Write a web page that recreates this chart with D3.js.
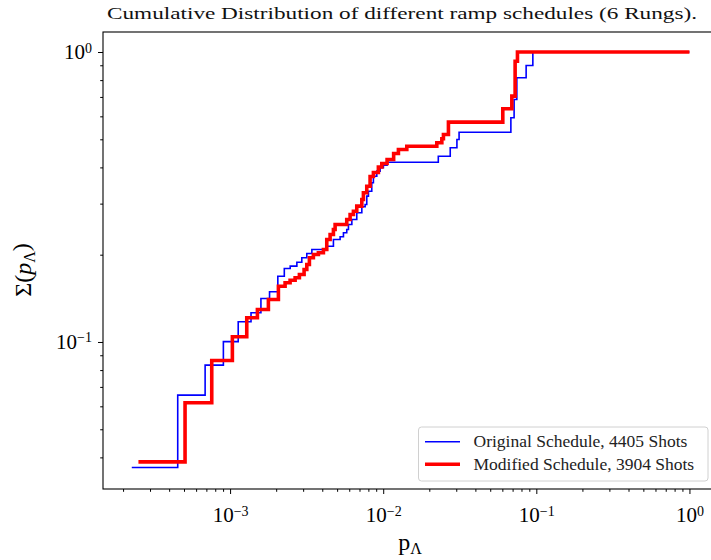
<!DOCTYPE html>
<html>
<head>
<meta charset="utf-8">
<script src="https://cdn.jsdelivr.net/npm/d3@7"></script>
<style>
  body { margin: 0; background: #fff; }
  svg { display: block; font-family: "Liberation Serif", serif; }
</style>
</head>
<body>
<svg id="chart" width="711" height="560"></svg>
<script>
// Step positions (p value) and cumulative fraction for each schedule
const originalX = [2.28e-4, 4.55e-4, 6.87e-4, 9.04e-4, 1.13e-3, 1.37e-3, 1.59e-3, 1.81e-3,
  2.05e-3, 2.26e-3, 2.47e-3, 2.73e-3, 2.94e-3, 3.17e-3, 3.42e-3, 4.28e-3, 4.73e-3, 5.23e-3,
  5.50e-3, 5.78e-3, 5.93e-3, 6.24e-3, 6.72e-3, 7.25e-3, 7.62e-3, 7.81e-3, 8.01e-3, 8.42e-3,
  8.63e-3, 9.08e-3, 9.55e-3, 1.003e-2, 1.06e-2, 2.29e-2, 2.74e-2, 3.03e-2, 3.13e-2, 6.82e-2,
  7.16e-2, 7.46e-2, 8.58e-2, 9.49e-2, 1.0];
const originalY = [0.0369, 0.0656, 0.0832, 0.1003, 0.1174, 0.1261, 0.1413, 0.1490,
  0.1686, 0.1792, 0.1826, 0.1884, 0.1951, 0.2019, 0.2084, 0.2139, 0.2256, 0.2305,
  0.2380, 0.2443, 0.2542, 0.2645, 0.2790, 0.2926, 0.2980, 0.3183, 0.3311, 0.3540,
  0.3730, 0.3882, 0.3988, 0.4071, 0.4169, 0.4372, 0.4674, 0.4991, 0.5290, 0.5933,
  0.6861, 0.8147, 0.8983, 1.0, 1.0];

const modifiedX = [2.52e-4, 5.08e-4, 7.59e-4, 1.035e-3, 1.285e-3, 1.508e-3, 1.779e-3,
  2.068e-3, 2.287e-3, 2.465e-3, 2.659e-3, 2.836e-3, 3.043e-3, 3.17e-3, 3.296e-3, 3.50e-3,
  3.774e-3, 4.069e-3, 4.28e-3, 4.50e-3, 4.73e-3, 4.852e-3, 5.78e-3, 6.079e-3, 6.389e-3,
  6.72e-3, 7.25e-3, 7.425e-3, 7.81e-3, 8.21e-3, 8.63e-3, 9.30e-3, 9.79e-3, 1.06e-2,
  1.17e-2, 1.257e-2, 1.426e-2, 2.239e-2, 2.415e-2, 2.474e-2, 2.667e-2, 6.04e-2, 6.92e-2,
  7.27e-2, 7.53e-2, 1.0];
const modifiedY = [0.0386, 0.0617, 0.0863, 0.1042, 0.1212, 0.1294, 0.1401,
  0.1557, 0.1600, 0.1633, 0.1665, 0.1709, 0.1778, 0.1850, 0.1951, 0.2003,
  0.2030, 0.2084, 0.2256, 0.2348, 0.2443, 0.2542, 0.2645, 0.2753, 0.2825,
  0.2940, 0.3100, 0.3269, 0.3445, 0.3721, 0.3842, 0.4013, 0.4126, 0.4259,
  0.4467, 0.4611, 0.4734, 0.4863, 0.5021, 0.5194, 0.5729, 0.6369, 0.7043,
  0.9297, 1.0, 1.0];

const xMajorTicks = [1e-3, 1e-2, 1e-1, 1];
const xTickExponents = ["\u22123", "\u22122", "\u22121", "0"];
const yMajorTicks = [1e-1, 1];
const yTickExponents = ["\u22121", "0"];

const seriesLabels = ["Original Schedule, 4405 Shots", "Modified Schedule, 3904 Shots"];
const seriesColors = ["#0000ff", "#ff0000"];

const svg = d3.select("#chart");

// Plot frame; the right edge runs past the window, as in the original figure
const plot = { left: 103, top: 32, right: 717, bottom: 489 };

const x = d3.scaleLog()
  .domain([Math.pow(10, -3.83), Math.pow(10, 0.18)])
  .range([plot.left, plot.right]);

const y = d3.scaleLog()
  .domain([Math.pow(10, -1.507), Math.pow(10, 0.069)])
  .range([plot.bottom, plot.top]);

/**
 * Minor ticks (2..9 x 10^k) that fall inside a log domain
 */
function minorTicks(domain) {
  const out = [];
  const lo = Math.floor(Math.log10(domain[0]));
  const hi = Math.ceil(Math.log10(domain[1]));
  for (let k = lo; k <= hi; k++) {
    for (let m = 2; m <= 9; m++) {
      const v = m * Math.pow(10, k);
      if (v >= domain[0] && v <= domain[1]) out.push(v);
    }
  }
  return out;
}

/**
 * Replace plain tick text with "10" and a superscript exponent
 */
function powerLabels(sel, exponents, anchor) {
  sel.attr("font-family", null);
  sel.selectAll(".tick text").each(function (d, i) {
    const t = d3.select(this);
    t.text(null)
      .attr("font-size", 21)
      .attr("fill", "#000")
      .attr("text-anchor", anchor);
    t.append("tspan").text("10");
    t.append("tspan")
      .attr("dy", "-0.45em")
      .attr("font-size", 14)
      .text(exponents[i]);
  });
}

svg.append("clipPath").attr("id", "plot-clip")
  .append("rect")
  .attr("x", plot.left)
  .attr("y", plot.top)
  .attr("width", plot.right - plot.left)
  .attr("height", plot.bottom - plot.top);

// Step lines
const stepLine = d3.line()
  .x((d) => x(d[0]))
  .y((d) => y(d[1]))
  .curve(d3.curveStepAfter);

const series = [
  { points: d3.zip(originalX, originalY), color: seriesColors[0], width: 1.6 },
  { points: d3.zip(modifiedX, modifiedY), color: seriesColors[1], width: 3.6 },
];

svg.append("g")
  .attr("clip-path", "url(#plot-clip)")
  .selectAll("path")
  .data(series)
  .enter()
  .append("path")
  .attr("d", (d) => stepLine(d.points))
  .attr("fill", "none")
  .attr("stroke", (d) => d.color)
  .attr("stroke-width", (d) => d.width)
  .attr("stroke-linejoin", "miter");

// Axes: major ticks with labels, minor ticks without
const xAxis = svg.append("g")
  .attr("transform", `translate(0,${plot.bottom})`)
  .call(d3.axisBottom(x).tickValues(xMajorTicks).tickSize(5).tickPadding(6));
powerLabels(xAxis, xTickExponents, "middle");
xAxis.selectAll(".tick text").attr("dy", "1.05em");

svg.append("g")
  .attr("transform", `translate(0,${plot.bottom})`)
  .call(d3.axisBottom(x).tickValues(minorTicks(x.domain())).tickSize(2.8).tickFormat(""));

const yAxis = svg.append("g")
  .attr("transform", `translate(${plot.left},0)`)
  .call(d3.axisLeft(y).tickValues(yMajorTicks).tickSize(5).tickPadding(6));
powerLabels(yAxis, yTickExponents, "end");
yAxis.selectAll(".tick text").attr("dy", "0.3em");

svg.append("g")
  .attr("transform", `translate(${plot.left},0)`)
  .call(d3.axisLeft(y).tickValues(minorTicks(y.domain())).tickSize(2.8).tickFormat(""));

svg.selectAll(".domain").remove();
svg.selectAll(".tick line").attr("stroke", "#000").attr("stroke-width", 1);

// Frame
svg.append("rect")
  .attr("x", plot.left)
  .attr("y", plot.top)
  .attr("width", plot.right - plot.left)
  .attr("height", plot.bottom - plot.top)
  .attr("fill", "none")
  .attr("stroke", "#000")
  .attr("stroke-width", 1.1);

// Title and axis labels
svg.append("text")
  .attr("x", 402)
  .attr("y", 19)
  .attr("text-anchor", "middle")
  .attr("font-size", 17.5)
  .attr("fill", "#111")
  .attr("textLength", 590)
  .attr("lengthAdjust", "spacingAndGlyphs")
  .text("Cumulative Distribution of different ramp schedules (6 Rungs).");

const xLabel = svg.append("text")
  .attr("x", 410)
  .attr("y", 550)
  .attr("text-anchor", "middle")
  .attr("font-size", 24);
xLabel.append("tspan").text("p");
xLabel.append("tspan").attr("dy", "0.25em").attr("font-size", 16).text("\u039b");

const yLabel = svg.append("text")
  .attr("transform", "translate(31,270) rotate(-90)")
  .attr("text-anchor", "middle")
  .attr("font-size", 24);
yLabel.append("tspan").text("\u03a3(");
yLabel.append("tspan").attr("font-style", "italic").text("p");
yLabel.append("tspan").attr("dy", "0.25em").attr("font-size", 16).text("\u039b");
yLabel.append("tspan").attr("dy", "-0.25em").text(")");

// Legend
const legend = svg.append("g").attr("transform", "translate(418.5,427)");
legend.append("rect")
  .attr("width", 289.5)
  .attr("height", 54)
  .attr("rx", 3)
  .attr("fill", "rgba(255,255,255,0.8)")
  .attr("stroke", "#d0d0d0");

const entries = legend.selectAll(".legend-entry")
  .data(series)
  .enter()
  .append("g")
  .attr("class", "legend-entry")
  .attr("transform", (d, i) => `translate(0,${14.7 + i * 22.6})`);

entries.append("line")
  .attr("x1", 6.5)
  .attr("x2", 41.5)
  .attr("stroke", (d) => d.color)
  .attr("stroke-width", (d) => d.width);

entries.append("text")
  .attr("x", 55)
  .attr("y", 5.5)
  .attr("font-size", 17.5)
  .attr("fill", "#222")
  .text((d, i) => seriesLabels[i]);
</script>
</body>
</html>
